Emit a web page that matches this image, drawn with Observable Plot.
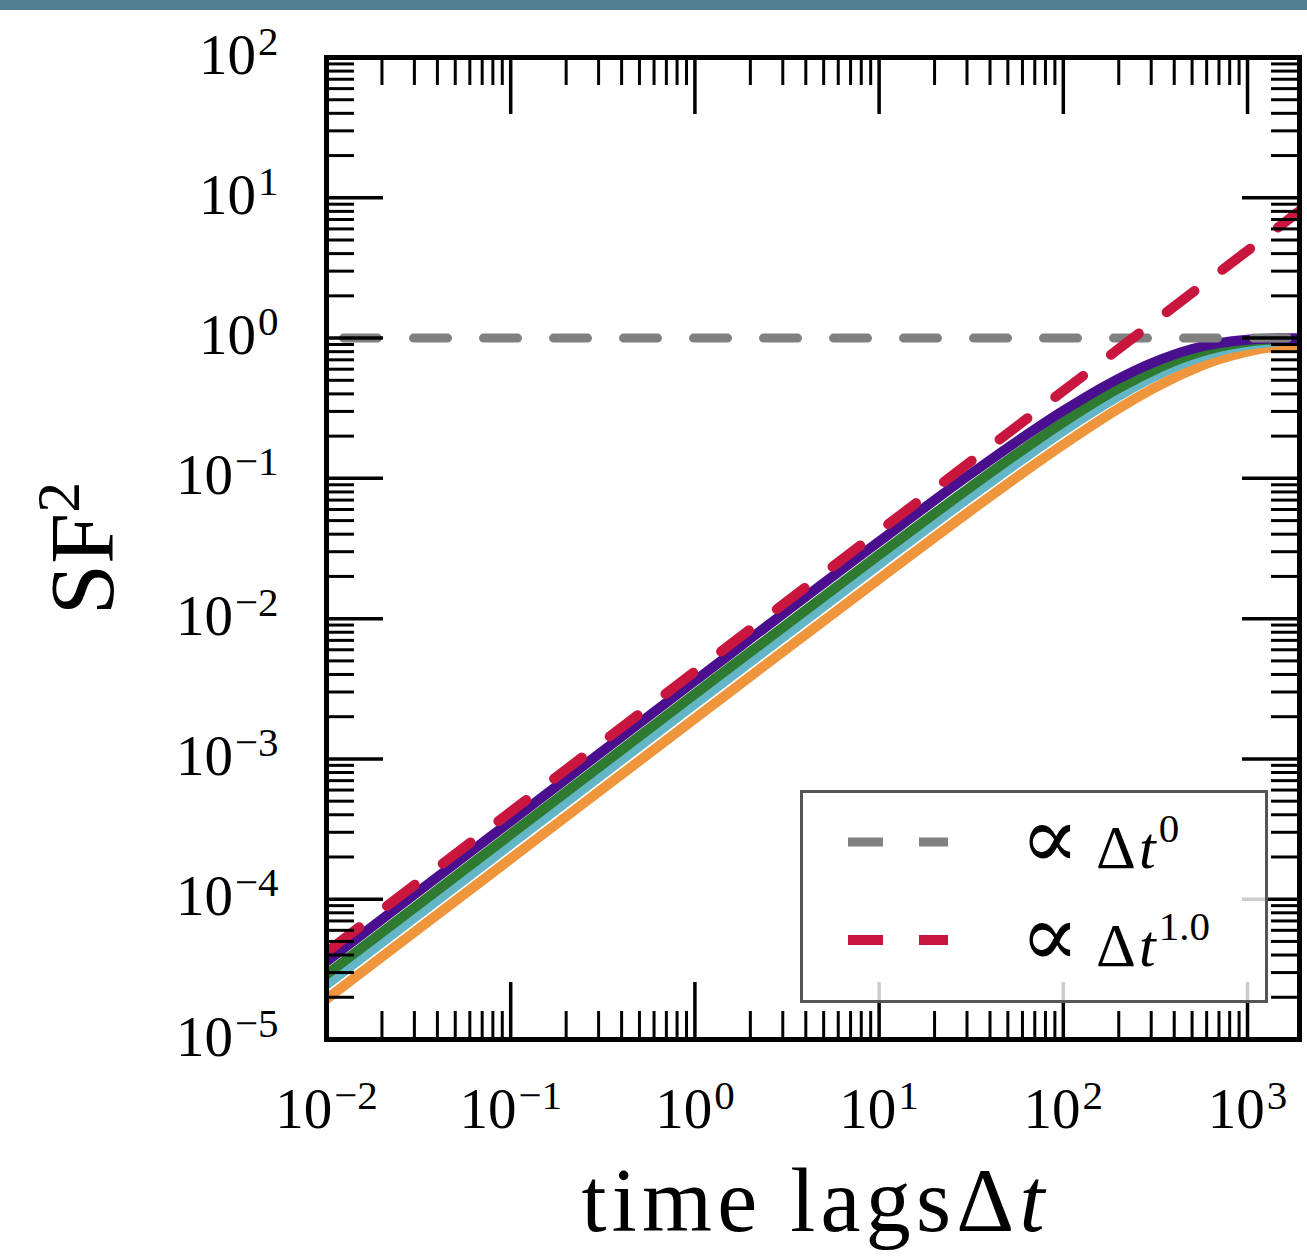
<!DOCTYPE html>
<html>
<head>
<meta charset="utf-8">
<script src="https://cdn.jsdelivr.net/npm/d3@7"></script>
<script src="https://cdn.jsdelivr.net/npm/@observablehq/plot@0.6"></script>
<style>
  body { margin: 0; background: #fff; }
  #band { height: 10px; background: #517f8f; }
</style>
</head>
<body>
<div id="band"></div>
<div id="chart"></div>
<script>
// Structure function SF^2 versus time lag, four curves plus two power-law guides.
const lagTimes = [0.01, 0.1, 1, 10, 30, 60, 100, 200, 300, 500, 700, 1000, 1500, 1915];
const sfPurple = [3.6e-5, 3.6e-4, 3.6e-3, 0.0355, 0.103, 0.195, 0.303, 0.514, 0.661, 0.836, 0.920, 0.973, 0.996, 0.999];
const sfGreen  = [2.9e-5, 2.9e-4, 2.9e-3, 0.0285, 0.083, 0.159, 0.251, 0.439, 0.579, 0.762, 0.865, 0.941, 0.982, 0.991];
const sfCyan   = [2.47e-5, 2.47e-4, 2.47e-3, 0.0244, 0.0713, 0.137, 0.218, 0.387, 0.518, 0.699, 0.807, 0.894, 0.949, 0.963];
const sfOrange = [1.94e-5, 1.94e-4, 1.94e-3, 0.0192, 0.0563, 0.109, 0.174, 0.315, 0.429, 0.596, 0.705, 0.802, 0.873, 0.894];

// Guide lines: flat (∝ Δt^0) and linear (∝ Δt^1.0)
const guideLags = [0.01, 1915];
const guideFlat = [1, 1];
const guideLinear = [4.2e-5, 8.04];

// Axis decades
const xDecades = [0.01, 0.1, 1, 10, 100, 1000];
const yDecades = [1e-5, 1e-4, 1e-3, 1e-2, 1e-1, 1, 10, 100];
const xDomain = [0.01, 1915];
const yDomain = [1e-5, 100];

// Text pieces
const xTitle = ["time lags", "\u0394", "t"];
const yTitle = ["SF", "2"];
const legendExponents = ["0", "1.0"];

const seriesColors = {orange: "#ef953b", cyan: "#64b6c6", green: "#2f7a31", purple: "#4a0f8f"};

const rows = (name, ys) => lagTimes.map((t, i) => ({series: name, t, sf: ys[i]}));
const curves = [
  rows("orange", sfOrange),
  rows("cyan", sfCyan),
  rows("green", sfGreen),
  rows("purple", sfPurple)
];
const guide = ys => guideLags.map((t, i) => ({t, sf: ys[i]}));

const xMinor = xDecades.flatMap(d => d3.range(2, 10).map(k => k * d)).filter(v => v <= xDomain[1]);
const yMinor = yDecades.slice(0, -1).flatMap(d => d3.range(2, 10).map(k => k * d));

const W = 1307, H = 1246;
const M = {top: 47, right: 8, bottom: 217, left: 326};
const PW = W - M.left - M.right;
const PH = H - M.top - M.bottom;
const MAJOR = 57, MINOR = 28;
const FONT = "'Liberation Serif', 'DejaVu Serif', serif";

const expText = d => String(Math.round(Math.log10(d))).replace("-", "\u2212");

const tickMarks = [];
for (const [vals, len, sw] of [[xDecades, MAJOR, 3.5], [xMinor, MINOR, 3]]) {
  tickMarks.push(Plot.tickX(vals, {x: d => d, stroke: "black", strokeWidth: sw, insetTop: PH - len}));
  tickMarks.push(Plot.tickX(vals, {x: d => d, stroke: "black", strokeWidth: sw, insetBottom: PH - len}));
}
for (const [vals, len, sw] of [[yDecades, MAJOR, 3.5], [yMinor, MINOR, 3]]) {
  tickMarks.push(Plot.tickY(vals, {y: d => d, stroke: "black", strokeWidth: sw, insetRight: PW - len}));
  tickMarks.push(Plot.tickY(vals, {y: d => d, stroke: "black", strokeWidth: sw, insetLeft: PW - len}));
}

const plot = Plot.plot({
  width: W,
  height: H,
  marginTop: M.top,
  marginRight: M.right,
  marginBottom: M.bottom,
  marginLeft: M.left,
  style: {fontFamily: FONT, background: "white", color: "black", overflow: "visible"},
  x: {type: "log", domain: xDomain, axis: null},
  y: {type: "log", domain: yDomain, axis: null},
  marks: [
    ...curves.map(c => Plot.line(c, {x: "t", y: "sf", stroke: seriesColors[c[0].series], strokeWidth: 10, curve: "monotone-x", clip: true})),
    Plot.line(guide(guideFlat), {x: "t", y: "sf", stroke: "#808080", strokeWidth: 9, strokeDasharray: "34,36", strokeDashoffset: 53, clip: true}),
    Plot.line(guide(guideLinear), {x: "t", y: "sf", stroke: "#c8163e", strokeWidth: 10, strokeDasharray: "35,35", strokeDashoffset: 64, clip: true}),
    ...tickMarks,
    Plot.frame({stroke: "black", strokeWidth: 5}),
    Plot.text(xDecades, {x: d => d, frameAnchor: "bottom", lineAnchor: "bottom", textAnchor: "middle", dy: 88, text: expText, fontSize: 57}),
    Plot.text(yDecades, {y: d => d, frameAnchor: "left", lineAnchor: "bottom", textAnchor: "end", dx: -48, dy: 16, text: expText, fontSize: 57}),
    Plot.text([xTitle[0]], {frameAnchor: "bottom", lineAnchor: "bottom", textAnchor: "middle", dy: 191, fontSize: 90}),
    Plot.text([yTitle[0]], {frameAnchor: "left", lineAnchor: "bottom", textAnchor: "middle", rotate: -90, dx: -214, fontSize: 92})
  ]
});

const svg = d3.select(plot);
const ns = "http://www.w3.org/2000/svg";
const tspan = (parent, text, attrs = {}) => {
  const s = document.createElementNS(ns, "tspan");
  s.textContent = text;
  for (const [k, v] of Object.entries(attrs)) s.setAttribute(k, v);
  parent.appendChild(s);
  return s;
};

// Rich text: power-of-ten tick labels and the math parts of the axis titles
svg.selectAll("text").each(function () {
  const content = this.textContent;
  if (/^[\u2212-]?\d+$/.test(content)) {
    this.textContent = "";
    tspan(this, "10");
    tspan(this, content, {"font-size": 41, dy: -19, dx: 2});
  } else if (content === xTitle[0]) {
    tspan(this, xTitle[1]);
    tspan(this, xTitle[2], {"font-style": "italic"});
    this.setAttribute("textLength", 463);
    this.setAttribute("lengthAdjust", "spacing");
  } else if (content === yTitle[0]) {
    tspan(this, yTitle[1], {"font-size": 62, dy: -34});
  }
});

// Legend box in the lower right of the frame
const legend = svg.append("g").attr("font-family", FONT).attr("text-anchor", "start");
legend.append("rect")
  .attr("x", 801.5).attr("y", 781.5).attr("width", 465).attr("height", 210)
  .attr("fill", "white").attr("fill-opacity", 0.8)
  .attr("stroke", "#555").attr("stroke-width", 3);
const entries = [
  {color: "#808080", width: 9, y: 832, exp: legendExponents[0]},
  {color: "#c8163e", width: 10, y: 930, exp: legendExponents[1]}
];
for (const e of entries) {
  legend.append("line")
    .attr("x1", 848).attr("x2", 948).attr("y1", e.y).attr("y2", e.y)
    .attr("stroke", e.color).attr("stroke-width", e.width)
    .attr("stroke-dasharray", "35,36");
  const t = legend.append("text")
    .attr("y", e.y + 26)
    .attr("font-size", 58).attr("fill", "black").node();
  tspan(t, "\u221D", {x: 1020, "font-size": 88});
  tspan(t, "\u0394", {x: 1096, "font-size": 62});
  tspan(t, "t", {x: 1139, "font-style": "italic", "font-size": 60});
  tspan(t, e.exp, {"font-size": 41, dy: -26, dx: 3});
}

document.getElementById("chart").appendChild(plot);
</script>
</body>
</html>
